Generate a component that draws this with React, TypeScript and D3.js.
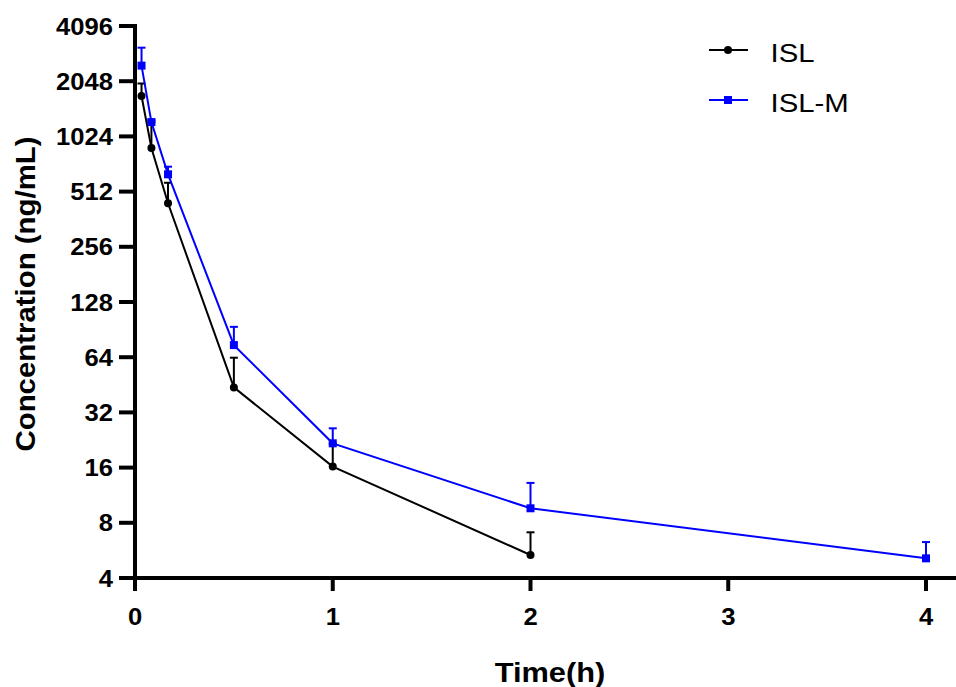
import React from "react";
import * as d3 from "d3";

const times = [0.033, 0.083, 0.167, 0.5, 1, 2, 4];
const islMean = [1700, 885, 442, 43.8, 16.2, 5.34];
const islErr = [290, 340, 130, 19.8, 5.4, 1.76];
const islmMean = [2490, 1226, 636, 74.5, 21.7, 9.6, 5.12];
const islmErr = [630, 30, 64, 19.2, 4.5, 3.6, 1.16];
const yTicks = [4, 8, 16, 32, 64, 128, 256, 512, 1024, 2048, 4096];
const xTicks = [0, 1, 2, 3, 4];

const W = 956;
const H = 687;
const FONT = "'Liberation Sans', Arial, sans-serif";

function SText(props: {
  x: number;
  y: number;
  sx: number;
  size: number;
  bold?: boolean;
  anchor?: string;
  children: React.ReactNode;
}) {
  return (
    <text
      transform={`translate(${props.x},${props.y}) scale(${props.sx},1)`}
      fontSize={props.size}
      fontWeight={props.bold ? "bold" : "normal"}
      textAnchor={props.anchor || "start"}
    >
      {props.children}
    </text>
  );
}

export default function App() {
  const x = d3.scaleLinear().domain([0, 4]).range([135, 926]);
  const y = d3.scaleLog().base(2).domain([4, 4096]).range([578, 26]);

  const line = d3
    .line<[number, number]>()
    .x((d) => x(d[0]))
    .y((d) => y(d[1]));

  const islPts: [number, number][] = islMean.map((v, i) => [times[i], v]);
  const islmPts: [number, number][] = islmMean.map((v, i) => [times[i], v]);

  const errBars = (pts: [number, number][], errs: number[], color: string) =>
    pts.map((p, i) => {
      const cx = x(p[0]);
      const top = y(p[1] + errs[i]);
      return (
        <g key={i} stroke={color} strokeWidth={2}>
          <line x1={cx} x2={cx} y1={y(p[1])} y2={top} />
          <line x1={cx - 4} x2={cx + 4} y1={top} y2={top} />
        </g>
      );
    });

  return (
    <svg
      width={W}
      height={H}
      style={{ position: "absolute", left: 0, top: 0, background: "#fff" }}
      fontFamily={FONT}
    >
      <rect width={W} height={H} fill="#fff" />
      {/* error bars */}
      {errBars(islPts, islErr, "#000")}
      {errBars(islmPts, islmErr, "#0000ff")}
      {/* lines */}
      <path d={line(islPts) || ""} fill="none" stroke="#000" strokeWidth={2} />
      <path d={line(islmPts) || ""} fill="none" stroke="#0000ff" strokeWidth={2} />
      {/* markers */}
      {islPts.map((p, i) => (
        <circle key={i} cx={x(p[0])} cy={y(p[1])} r={4} fill="#000" />
      ))}
      {islmPts.map((p, i) => (
        <rect
          key={i}
          x={x(p[0]) - 4}
          y={y(p[1]) - 4}
          width={8}
          height={8}
          fill="#0000ff"
        />
      ))}
      {/* y axis */}
      <line x1={135} x2={135} y1={y(4096) - 2} y2={578} stroke="#000" strokeWidth={4} />
      {yTicks.map((t) => (
        <g key={t}>
          <line x1={119} x2={135} y1={y(t)} y2={y(t)} stroke="#000" strokeWidth={4} />
          <SText x={113} y={y(t) + 8.5} sx={1.09} size={23.5} bold anchor="end">
            {t}
          </SText>
        </g>
      ))}
      {/* x axis */}
      <line x1={133} x2={956} y1={578} y2={578} stroke="#000" strokeWidth={4} />
      {xTicks.map((t) => (
        <g key={t}>
          <line x1={x(t)} x2={x(t)} y1={578} y2={591} stroke="#000" strokeWidth={4} />
          <SText x={x(t)} y={625} sx={1.09} size={23.5} bold anchor="middle">
            {t}
          </SText>
        </g>
      ))}
      <SText x={550} y={682} sx={1.1} size={28} bold anchor="middle">
        Time(h)
      </SText>
      <text
        transform={`translate(35,294) rotate(-90) scale(1.05,1)`}
        textAnchor="middle"
        fontSize={28}
        fontWeight="bold"
      >
        Concentration (ng/mL)
      </text>
      {/* legend */}
      <g>
        <line x1={709} x2={748} y1={50} y2={50} stroke="#000" strokeWidth={2} />
        <circle cx={728} cy={50} r={4} fill="#000" />
        <SText x={770.5} y={61.5} sx={1.15} size={25.5}>
          ISL
        </SText>
        <line x1={709} x2={748} y1={100} y2={100} stroke="#0000ff" strokeWidth={2} />
        <rect x={724} y={96} width={8} height={8} fill="#0000ff" />
        <SText x={770.5} y={111.5} sx={1.15} size={25.5}>
          ISL-M
        </SText>
      </g>
    </svg>
  );
}
